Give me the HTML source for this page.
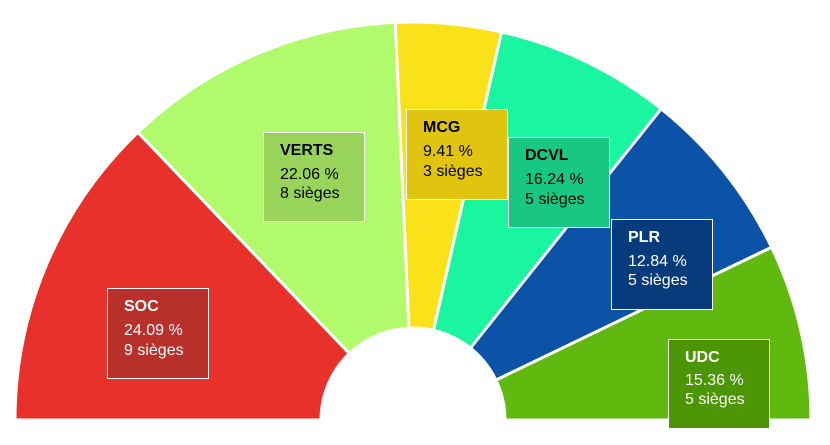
<!DOCTYPE html>
<html><head><meta charset="utf-8"><style>
html,body{margin:0;padding:0;background:#fff;}
svg{display:block;font-family:"Liberation Sans",sans-serif;}
</style></head><body>
<svg width="830" height="445" viewBox="0 0 830 445">
<g stroke="#fff" stroke-width="3" stroke-linejoin="miter">
<path d="M15,420 A398,398 0 0 1 137.9,132.3 L349.4,353.5 A92,92 0 0 0 321,420 Z" fill="#e8312a"/>
<path d="M137.9,132.3 A398,398 0 0 1 395.2,22.4 L408.9,328.1 A92,92 0 0 0 349.4,353.5 Z" fill="#b0fa6c"/>
<path d="M395.2,22.4 A398,398 0 0 1 501.6,32 L433.5,330.3 A92,92 0 0 0 408.9,328.1 Z" fill="#fae21b"/>
<path d="M501.6,32 A398,398 0 0 1 661.2,108.8 L470.4,348.1 A92,92 0 0 0 433.5,330.3 Z" fill="#1af5a0"/>
<path d="M661.2,108.8 A398,398 0 0 1 771.6,247.3 L495.9,380.1 A92,92 0 0 0 470.4,348.1 Z" fill="#0c53a8"/>
<path d="M771.6,247.3 A398,398 0 0 1 811,420 L505,420 A92,92 0 0 0 495.9,380.1 Z" fill="#5fb90f"/>
</g>
<g stroke="#fff" stroke-width="1" font-size="16">
<rect x="107.5" y="288.5" width="101" height="90" fill="#b8302a"/>
<rect x="263.5" y="132.5" width="101" height="89" fill="#98d45a"/>
<rect x="406.5" y="109.5" width="101" height="90" fill="#e0c410"/>
<rect x="508.5" y="137.5" width="101" height="90" fill="#17c782"/>
<rect x="611.5" y="219.5" width="101" height="90" fill="#083b7c"/>
<rect x="668.5" y="339.5" width="101" height="89" fill="#4c9606"/>
</g>
<g font-size="16">
<g fill="#fff"><text x="124" y="311" font-weight="bold">SOC</text><text x="124" y="335">24.09 %</text><text x="124" y="355">9 sièges</text></g>
<g fill="#000"><text x="280" y="155" font-weight="bold">VERTS</text><text x="280" y="179">22.06 %</text><text x="280" y="198">8 sièges</text></g>
<g fill="#000"><text x="423" y="132" font-weight="bold">MCG</text><text x="423" y="156">9.41 %</text><text x="423" y="176">3 sièges</text></g>
<g fill="#000"><text x="525" y="160" font-weight="bold">DCVL</text><text x="525" y="184">16.24 %</text><text x="525" y="204">5 sièges</text></g>
<g fill="#fff"><text x="628" y="242" font-weight="bold">PLR</text><text x="628" y="266">12.84 %</text><text x="628" y="285">5 sièges</text></g>
<g fill="#fff"><text x="685" y="362" font-weight="bold">UDC</text><text x="685" y="385">15.36 %</text><text x="685" y="404">5 sièges</text></g>
</g>
</svg>
</body></html>
